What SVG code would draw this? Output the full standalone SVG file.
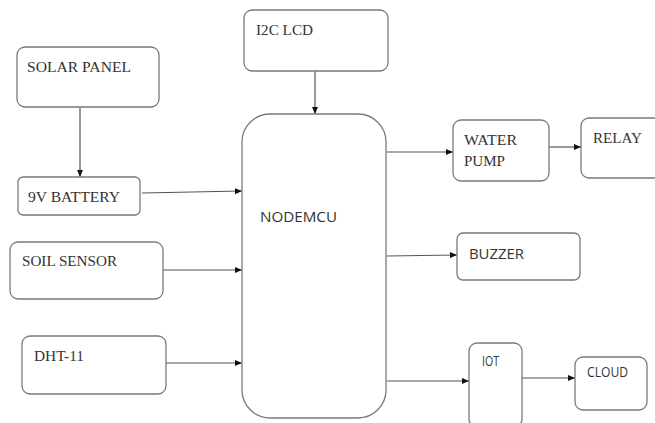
<svg xmlns="http://www.w3.org/2000/svg" width="655" height="423" viewBox="0 0 655 423">
<style>
.box{fill:#fff;stroke:#7a7a7a;stroke-width:1.3}
.t{font-family:"Liberation Serif","Times New Roman",serif;font-size:15px;fill:#333}
.s{font-family:"Open Sans","Liberation Sans",sans-serif;font-size:15px;fill:#333}
.c{stroke:#555;stroke-width:1.2;fill:none;marker-end:url(#ah)}
</style>
<defs>
<marker id="ah" markerWidth="8" markerHeight="8" refX="7" refY="4" orient="auto" markerUnits="userSpaceOnUse">
<path d="M0,1 L7,4 L0,7 Z" fill="#111"/>
</marker>
</defs>
<rect width="655" height="423" fill="#fff"/>
<g id="connectors">
<line class="c" x1="80" y1="108" x2="80" y2="177"/>
<line class="c" x1="142" y1="193" x2="242" y2="191"/>
<line class="c" x1="315" y1="71" x2="315" y2="114"/>
<line class="c" x1="163" y1="270" x2="242" y2="270"/>
<line class="c" x1="166" y1="363" x2="242" y2="363"/>
<line class="c" x1="387" y1="152" x2="453" y2="152"/>
<line class="c" x1="549" y1="147" x2="581" y2="147"/>
<line class="c" x1="387" y1="256" x2="457" y2="255"/>
<line class="c" x1="387" y1="381" x2="469" y2="381"/>
<line class="c" x1="522" y1="378" x2="575" y2="378"/>
</g>
<g id="solar"><rect class="box" x="17" y="47" width="142" height="60" rx="8"/><text class="t" x="27" y="72" textLength="104" lengthAdjust="spacingAndGlyphs">SOLAR PANEL</text></g>
<g id="lcd"><rect class="box" x="244" y="10" width="144" height="61" rx="8"/><text class="t" x="256" y="35" textLength="57" lengthAdjust="spacingAndGlyphs">I2C LCD</text></g>
<g id="battery"><rect class="box" x="18" y="177" width="122" height="38" rx="5"/><text class="t" x="28" y="202" textLength="92" lengthAdjust="spacingAndGlyphs">9V BATTERY</text></g>
<g id="soil"><rect class="box" x="10" y="242" width="153" height="57" rx="8"/><text class="t" x="22" y="266" textLength="95" lengthAdjust="spacingAndGlyphs">SOIL SENSOR</text></g>
<g id="dht"><rect class="box" x="22" y="336" width="144" height="58" rx="8"/><text class="t" x="34" y="361" textLength="50" lengthAdjust="spacingAndGlyphs">DHT-11</text></g>
<g id="nodemcu"><rect class="box" x="242" y="114" width="144" height="304" rx="28"/><text class="s" x="260" y="222" textLength="77" lengthAdjust="spacingAndGlyphs">NODEMCU</text></g>
<g id="pump"><rect class="box" x="453" y="120" width="96" height="61" rx="8"/><text class="t" x="464" y="145" textLength="53" lengthAdjust="spacingAndGlyphs">WATER</text><text class="t" x="464" y="166" textLength="41" lengthAdjust="spacingAndGlyphs">PUMP</text></g>
<g id="relay"><rect class="box" x="581" y="118" width="80" height="60" rx="8"/><text class="t" x="593" y="143" textLength="49" lengthAdjust="spacingAndGlyphs">RELAY</text></g>
<g id="buzzer"><rect class="box" x="457" y="233" width="123" height="47" rx="6"/><text class="s" x="469" y="259" textLength="55" lengthAdjust="spacingAndGlyphs">BUZZER</text></g>
<g id="iot"><rect class="box" x="469" y="343" width="53" height="84" rx="8"/><text class="s" x="482" y="366" font-size="12" textLength="17" lengthAdjust="spacingAndGlyphs">IOT</text></g>
<g id="cloud"><rect class="box" x="575" y="357" width="72" height="53" rx="8"/><text class="s" x="587" y="377" font-size="12" textLength="41" lengthAdjust="spacingAndGlyphs">CLOUD</text></g>
</svg>
